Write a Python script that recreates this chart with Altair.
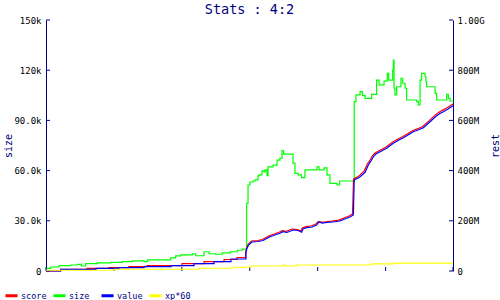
import altair as alt
import pandas as pd

NAVY = "#000080"
MONO = "DejaVu Sans Mono"

# ---- data ----
x_ticks = [13, 407, 801, 1195, 1589, 1983, 2374]
size_ticks = [0, 30000, 60000, 90000, 120000, 150000]
rest_ticks = [0, 200, 400, 600, 800, 1000]  # millions

series_names = ["score", "size", "value", "xp*60"]
series_colors = ["#ff0000", "#00ff00", "#0000ff", "#ffff00"]

size_x = [13, 40, 88, 156, 195, 218, 243, 311, 388, 456,
          514, 582, 601, 736, 765, 794, 862, 881, 930, 959,
          997, 1036, 1084, 1123, 1152, 1177, 1185, 1196, 1214, 1225,
          1243, 1249, 1266, 1278, 1284, 1295, 1301, 1330, 1353, 1370,
          1382, 1391, 1446, 1457, 1475, 1495, 1515, 1585, 1597, 1626,
          1643, 1660, 1701, 1716, 1801, 1811, 1835, 1849, 1864, 1902,
          1931, 1945, 1974, 1993, 2001, 2024, 2028, 2032, 2037, 2047,
          2072, 2082, 2096, 2105, 2163, 2173, 2183, 2192, 2212, 2217,
          2221, 2270, 2279, 2337, 2347, 2357, 2374]
size_y = [1600, 2400, 3200, 3600, 4000, 3000, 4400, 4800, 5200, 5600,
          6000, 5600, 6600, 7900, 9000, 9600, 10300, 9100, 11500, 10300,
          10000, 10800, 11500, 12400, 13100, 40500, 51400, 53200, 53800, 54400,
          56800, 57400, 59800, 59200, 60400, 57000, 62200, 63300, 66300, 67500,
          72000, 69900, 64500, 58400, 57400, 55800, 60400, 62200, 60400, 61600,
          57400, 52400, 51400, 53800, 101200, 105200, 107200, 104800, 103200, 105600,
          114100, 111200, 113500, 118100, 114100, 120100, 126100, 109200, 105200, 110100,
          115200, 112200, 109200, 102200, 101200, 99200, 114100, 118100, 116100, 113100,
          110100, 106200, 102200, 105600, 103200, 101600, 101200]

# score / value in millions; early part is a staircase (pairs of points)
score_x = [13, 98, 98, 251, 251, 378, 378, 494, 494, 599,
           599, 802, 802, 930, 930, 1046, 1046, 1121, 1121, 1171,
           1171, 1177, 1186, 1205, 1240, 1268, 1308, 1336, 1365, 1383,
           1406, 1440, 1470, 1491, 1499, 1520, 1550, 1578, 1592, 1610,
           1636, 1672, 1712, 1752, 1771, 1791, 1797, 1818, 1830, 1858,
           1878, 1893, 1907, 1922, 1945, 1984, 2022, 2050, 2081, 2108,
           2139, 2166, 2196, 2218, 2236, 2253, 2273, 2293, 2312, 2340,
           2374]
score_y = [0, 0, 6.8, 6.8, 10.8, 10.8, 13.1, 13.1, 17.1, 17.1,
           21.1, 21.1, 29.1, 29.1, 37.1, 37.1, 45.8, 45.8, 53.8, 53.8,
           74.5, 91.6, 107.6, 119.5, 121.5, 125.5, 140.7, 147.4, 154.2, 160.6,
           158, 167.3, 165.4, 159, 171.3, 176.5, 179.3, 187.3, 197, 195,
           196, 199, 203, 214, 219, 227, 366, 374, 380, 398,
           427, 442, 460, 470, 479, 493, 513, 524, 535, 546,
           559, 566, 575, 588, 599, 610, 623, 632, 640, 650,
           665]

value_x = [13, 98, 98, 303, 303, 436, 436, 582, 582, 738,
           738, 872, 872, 988, 988, 1086, 1086, 1173, 1173, 1177,
           1188, 1208, 1243, 1272, 1312, 1341, 1370, 1388, 1411, 1446,
           1475, 1496, 1504, 1525, 1556, 1583, 1597, 1614, 1641, 1678,
           1718, 1757, 1776, 1796, 1801, 1823, 1835, 1864, 1883, 1898,
           1912, 1927, 1951, 1989, 2028, 2055, 2086, 2113, 2144, 2171,
           2202, 2223, 2241, 2258, 2279, 2299, 2318, 2345, 2374]
value_y = [0, 0, 6.8, 6.8, 10.8, 10.8, 13.1, 13.1, 17.1, 17.1,
           21.1, 21.1, 29.1, 29.1, 37.1, 37.1, 47.8, 47.8, 71.7, 87.6,
           103.6, 115.5, 117.5, 121.5, 136.7, 143.4, 150.2, 156.6, 153.4, 163.3,
           161.4, 154.2, 167.3, 172.5, 175.3, 183.3, 196.4, 191.2, 194, 195.2,
           199.2, 210, 215.1, 223.1, 362.5, 370.5, 375.7, 393.2, 422.3, 438.2,
           455.4, 466.1, 475.3, 488.8, 508.8, 519.9, 531.1, 541.8, 555, 561.7,
           570.9, 583.7, 594.8, 605.6, 618.7, 627.5, 634.7, 645.4, 658.6]

xp_x = [13, 407, 901, 1092, 1196, 1386, 1399, 1467, 1902, 2028, 2374]
xp_y = [3, 7, 11, 15, 20, 24, 20, 24, 28, 31, 31]

# ---- tables ----
size_df = pd.DataFrame({"x": size_x, "size": size_y, "series": "size"})
score_df = pd.DataFrame({"x": score_x, "rest": score_y, "series": "score"})
value_df = pd.DataFrame({"x": value_x, "rest": value_y, "series": "value"})
xp_df = pd.DataFrame({"x": xp_x, "rest": xp_y, "series": "xp*60"})
for d in (score_df, value_df):
    d["i"] = range(len(d))
lt_df = pd.DataFrame({"size": size_ticks})
rt_df = pd.DataFrame({"rest": rest_ticks})
xt_df = pd.DataFrame({"x": x_ticks})

W, H = 407, 251
LW = 1.2

x_scale = alt.Scale(domain=[13, 2374], nice=False, zero=False)
left_scale = alt.Scale(domain=[0, 150000], nice=False, zero=True)
right_scale = alt.Scale(domain=[0, 1000], nice=False, zero=True)
color_scale = alt.Scale(domain=series_names, range=series_colors)

x_axis = alt.Axis(values=x_ticks, orient="bottom", labelPadding=3, title=None,
                  format="d")
left_axis = alt.Axis(
    values=size_ticks, orient="left", title="size", labelPadding=5,
    labelExpr="datum.value == 0 ? '0' : format(datum.value / 1000, '.3g') + 'k'",
    titleAngle=270, titleX=-38, titleY=125.5, titleAlign="center",
    titleBaseline="middle",
)
right_axis = alt.Axis(
    values=rest_ticks, orient="right", title="rest", labelPadding=4,
    labelExpr="datum.value == 0 ? '0' : (datum.value >= 1000 ? format(datum.value / 1000, '.3g') + 'G' : format(datum.value, '.3g') + 'M')",
    titleAngle=270, titleX=42, titleY=125.5, titleAlign="center",
    titleBaseline="middle",
)

legend = alt.Legend(
    orient="none", legendX=-42, legendY=268, direction="horizontal",
    columns=4, title=None, symbolType="stroke", symbolSize=144,
    symbolStrokeWidth=3, labelFont=MONO, labelFontSize=8.5,
    labelColor=NAVY, labelOffset=2, columnPadding=0, gridAlign="all",
    padding=0, rowPadding=0,
)

size_line = alt.Chart(size_df).mark_line(interpolate="step-after", strokeWidth=LW).encode(
    x=alt.X("x:Q", scale=x_scale, axis=x_axis),
    y=alt.Y("size:Q", scale=left_scale, axis=left_axis),
    color=alt.Color("series:N", scale=color_scale, legend=legend),
)
left_ticks = alt.Chart(lt_df).mark_rule(color=NAVY, strokeWidth=1).encode(
    y=alt.Y("size:Q", scale=left_scale, axis=None),
    x=alt.value(0), x2=alt.value(4),
)
x_tick_marks = alt.Chart(xt_df).mark_rule(color=NAVY, strokeWidth=1).encode(
    x=alt.X("x:Q", scale=x_scale, axis=None),
    y=alt.value(H - 4), y2=alt.value(H),
)


def rest_line(df, with_axis, interp):
    enc = dict(
        x=alt.X("x:Q", scale=x_scale, axis=None),
        y=alt.Y("rest:Q", scale=right_scale, axis=right_axis if with_axis else None),
        color=alt.Color("series:N", scale=color_scale, legend=None),
    )
    if "i" in df.columns:
        enc["order"] = alt.Order("i:Q")
    return alt.Chart(df).mark_line(interpolate=interp, strokeWidth=LW).encode(**enc)


right_ticks = alt.Chart(rt_df).mark_rule(color=NAVY, strokeWidth=1).encode(
    y=alt.Y("rest:Q", scale=right_scale, axis=None),
    x=alt.value(W - 4), x2=alt.value(W),
)

chart = alt.layer(
    size_line, left_ticks, x_tick_marks,
    rest_line(score_df, True, "linear"), rest_line(value_df, False, "linear"),
    rest_line(xp_df, False, "step-after"), right_ticks,
).resolve_scale(y="independent").properties(
    width=W, height=H,
    padding={"left": 46, "top": 20, "right": 47, "bottom": 29},
    autosize=alt.AutoSizeParams(type="none"),
    title=alt.TitleParams("Stats : 4:2", font=MONO, fontSize=13.5, color=NAVY,
                          fontWeight="normal", anchor="middle", offset=0),
).configure_view(stroke=None).configure_axis(
    domainColor=NAVY, domainWidth=1, ticks=False, grid=False,
    labelColor="black", labelFont=MONO, labelFontSize=9, labelOverlap=False,
    labelFlush=False, titleColor=NAVY, titleFont=MONO, titleFontSize=10,
    titleFontWeight="normal",
)

chart.save("out.html", embed_options={"renderer": "svg", "actions": False})
